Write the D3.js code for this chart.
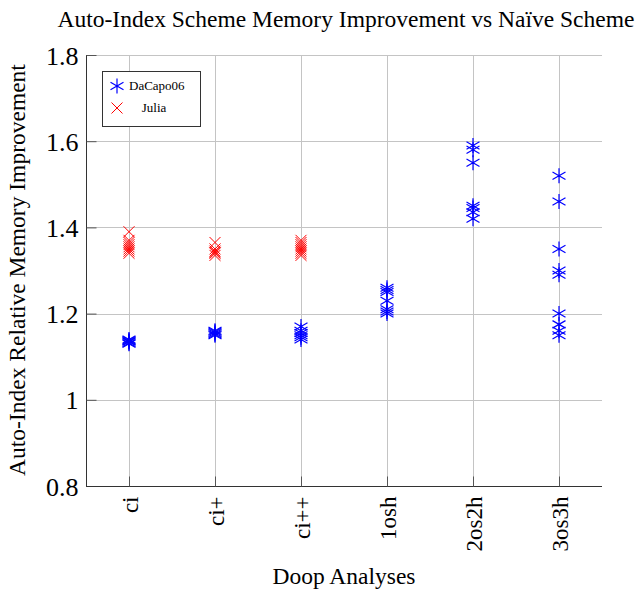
<!DOCTYPE html>
<html>
<head>
<meta charset="utf-8">
<script src="https://cdn.jsdelivr.net/npm/d3@7/dist/d3.min.js"></script>
<style>
  body { margin: 0; background: #fff; }
  svg { display: block; }
  text { font-family: "Liberation Serif", "Times New Roman", serif; fill: #000; }
</style>
</head>
<body>
<svg id="chart" width="640" height="589"></svg>
<script>
const categories = ["ci", "ci+", "ci++", "1osh", "2os2h", "3os3h"];
const yTicks = [0.8, 1, 1.2, 1.4, 1.6, 1.8];

const dacapo = [
  ["ci", 1.13], ["ci", 1.135], ["ci", 1.14], ["ci", 1.138], ["ci", 1.132], ["ci", 1.136],
  ["ci+", 1.15], ["ci+", 1.155], ["ci+", 1.16], ["ci+", 1.152], ["ci+", 1.158],
  ["ci++", 1.17], ["ci++", 1.16], ["ci++", 1.155], ["ci++", 1.15], ["ci++", 1.145], ["ci++", 1.14],
  ["1osh", 1.26], ["1osh", 1.255], ["1osh", 1.25], ["1osh", 1.23], ["1osh", 1.21], ["1osh", 1.205], ["1osh", 1.2],
  ["2os2h", 1.59], ["2os2h", 1.58], ["2os2h", 1.55], ["2os2h", 1.45], ["2os2h", 1.445], ["2os2h", 1.435], ["2os2h", 1.42],
  ["3os3h", 1.52], ["3os3h", 1.46], ["3os3h", 1.35], ["3os3h", 1.3], ["3os3h", 1.29], ["3os3h", 1.2], ["3os3h", 1.175], ["3os3h", 1.16], ["3os3h", 1.15]
];
const julia = [
  ["ci", 1.39], ["ci", 1.37], ["ci", 1.365], ["ci", 1.36], ["ci", 1.355], ["ci", 1.35], ["ci", 1.345], ["ci", 1.34],
  ["ci+", 1.365], ["ci+", 1.35], ["ci+", 1.345], ["ci+", 1.34], ["ci+", 1.335], ["ci+", 1.342],
  ["ci++", 1.37], ["ci++", 1.365], ["ci++", 1.36], ["ci++", 1.355], ["ci++", 1.35], ["ci++", 1.345], ["ci++", 1.34], ["ci++", 1.335]
];

const svg = d3.select("#chart");
const m = { left: 86, right: 38, top: 55, bottom: 103 };
const W = 640, H = 589;
const x = d3.scalePoint().domain(categories).range([m.left, W - m.right]).padding(0.5);
const y = d3.scaleLinear().domain([0.8, 1.8]).range([H - m.bottom, m.top]);

// grid
const grid = svg.append("g").attr("stroke", "#c4c4c4").attr("stroke-width", 1);
grid.selectAll(".hg").data(yTicks).join("line")
  .attr("x1", m.left).attr("x2", W - m.right)
  .attr("y1", d => Math.round(y(d)) + 0.5).attr("y2", d => Math.round(y(d)) + 0.5);
grid.selectAll(".vg").data(categories).join("line")
  .attr("y1", m.top).attr("y2", H - m.bottom)
  .attr("x1", d => Math.round(x(d)) + 0.5).attr("x2", d => Math.round(x(d)) + 0.5);

// axes
const yAxis = d3.axisLeft(y).tickValues(yTicks).tickSize(-10).tickPadding(8)
  .tickFormat(d => d3.format("")(d));
const gy = svg.append("g").attr("transform", `translate(${m.left + 0.5},0)`).call(yAxis);
gy.select(".domain").attr("stroke", "#333").attr("d", `M0,${y(0.8)}V${y(1.8)}`);
gy.selectAll(".tick line").attr("stroke", "#555");
gy.selectAll(".tick text").attr("font-size", 26).attr("font-family", "Liberation Serif, serif")
  .attr("x", -8).attr("dy", "0.35em");

const xAxis = d3.axisBottom(x).tickSize(-10).tickPadding(0);
const gx = svg.append("g").attr("transform", `translate(0,${H - m.bottom + 0.5})`).call(xAxis);
gx.select(".domain").attr("stroke", "#333").attr("d", `M${m.left},0H${W - m.right}`);
gx.selectAll(".tick line").attr("stroke", "#555");
gx.selectAll(".tick text").attr("font-size", 23).attr("font-family", "Liberation Serif, serif")
  .attr("text-anchor", "end").attr("transform", "translate(8,10) rotate(-90)").attr("dy", 0).attr("y", 0);

// markers
function asterisk(r) {
  const a = r * Math.cos(Math.PI / 6), b = r * Math.sin(Math.PI / 6);
  return `M0,${-r}V${r}M${-a},${-b}L${a},${b}M${-a},${b}L${a},${-b}`;
}
function cross(r) {
  return `M${-r},${-r}L${r},${r}M${-r},${r}L${r},${-r}`;
}
svg.append("g").selectAll("path").data(julia).join("path")
  .attr("transform", d => `translate(${x(d[0])},${y(d[1])})`)
  .attr("d", cross(5.5)).attr("stroke", "#ff0000").attr("fill", "none").attr("stroke-width", 1);
svg.append("g").selectAll("path").data(dacapo).join("path")
  .attr("transform", d => `translate(${x(d[0])},${y(d[1])})`)
  .attr("d", asterisk(7.5)).attr("stroke", "#0000ff").attr("fill", "none").attr("stroke-width", 1.2);

// legend
const lg = svg.append("g");
lg.append("rect").attr("x", 102.5).attr("y", 71.5).attr("width", 98).attr("height", 55)
  .attr("fill", "#fff").attr("stroke", "#333").attr("stroke-width", 1);
lg.append("path").attr("transform", "translate(117,86)").attr("d", asterisk(7.5))
  .attr("stroke", "#0000ff").attr("fill", "none").attr("stroke-width", 1.2);
lg.append("text").attr("x", 129).attr("y", 90).attr("font-size", 13).text("DaCapo06");
lg.append("path").attr("transform", "translate(117,108)").attr("d", cross(5.5))
  .attr("stroke", "#ff0000").attr("fill", "none");
lg.append("text").attr("x", 154).attr("y", 112).attr("font-size", 13).attr("text-anchor", "middle").text("Julia");

// title and labels
svg.append("text").attr("x", 346).attr("y", 27).attr("text-anchor", "middle").attr("font-size", 23.5)
  .text("Auto-Index Scheme Memory Improvement vs Naïve Scheme");
svg.append("text").attr("x", 344).attr("y", 584).attr("text-anchor", "middle").attr("font-size", 23.5)
  .text("Doop Analyses");
svg.append("text").attr("transform", "translate(25,270) rotate(-90)").attr("text-anchor", "middle").attr("font-size", 23.5)
  .text("Auto-Index Relative Memory Improvement");
</script>
</body>
</html>
